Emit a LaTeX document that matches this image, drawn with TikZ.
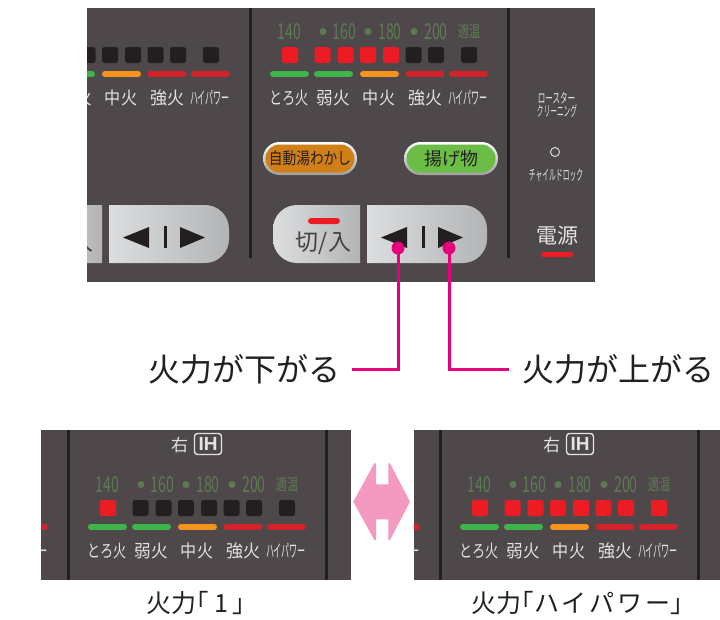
\documentclass[tikz,border=0pt]{standalone}
\usepackage{fontspec}
\usepackage{graphicx}
\setmainfont{Noto Sans CJK JP}
\newfontfamily\latn{Liberation Sans}
\usetikzlibrary{calc}

\definecolor{panel}{HTML}{4F484B}
\definecolor{divc}{HTML}{231F20}
\definecolor{sqon}{HTML}{ED1C24}
\definecolor{sqoff}{HTML}{231F20}
\definecolor{bgreen}{HTML}{3DB54A}
\definecolor{borange}{HTML}{F7941D}
\definecolor{bred}{HTML}{D2232A}
\definecolor{numc}{HTML}{5E7A52}
\definecolor{labc}{HTML}{E2E2E2}
\definecolor{pinkc}{HTML}{E6007E}
\definecolor{arrowpink}{HTML}{F49AC1}
\definecolor{btnA}{HTML}{DCDDDF}
\definecolor{btnB}{HTML}{B3B4B6}
\definecolor{pillor}{HTML}{D17F17}
\definecolor{pillgr}{HTML}{6CBD45}
\definecolor{ink}{HTML}{231F20}

\newcommand\setfs[1]{\fontsize{#1}{#1}\selectfont}

% heat row: #1 prefix, #2 number of lit lamps, #3 first label drawn
\newcommand\heatrow[3]{%
  \foreach \x [count=\i] in {290,322.5,345.5,368,391,413.5,436,469}{%
    \ifnum\i>#2\relax\def\sqc{sqoff}\else\def\sqc{sqon}\fi
    \node[lamp,fill=\sqc] (#1sq\i) at (\x,55) {};}%
  \foreach \x/\c in {289.5/bgreen,333.5/bgreen,379.5/borange,425/bred,468.5/bred}{%
    \draw[barline,\c] (\x-16.5,74) -- (\x+16.5,74);}%
  \foreach \x/\s/\t [count=\j] in {289/0.75/とろ火,333.5/0.95/弱火,379/0.92/中火,425/0.97/強火,468/0.46/ハイパワー}{%
    \ifnum\j<#3\relax\else
      \node[lab] (#1l\j) at (\x,97.5) {\scalebox{\s}[1]{\t}};
    \fi}%
}
% temperature row
\newcommand\temprow[1]{%
  \node[num] (#1na) at (289.5,31.5) {\scalebox{0.64}[1]{140}};
  \node[num] (#1nb) at (344.5,31.5) {\scalebox{0.64}[1]{160}};
  \node[num] (#1nc) at (390,31.5) {\scalebox{0.64}[1]{180}};
  \node[num] (#1nd) at (436,31.5) {\scalebox{0.64}[1]{200}};
  \node[num,font=\setfs{16}] (#1ne) at (469,31.5) {\scalebox{0.7}[1]{適温}};
  \foreach \x in {323,368,414}{\fill[numc] (\x,31.5) circle (3.5);}
}
% "right IH" heading
\newcommand\ihhead[1]{%
  \node[small,font=\setfs{17}] (#1right) at (361.5,-8) {右};
  \node[draw=labc, line width=1.4pt, rounded corners=3pt, minimum width=27pt,
        minimum height=21pt, inner sep=0pt, text=labc,
        font={\latn\bfseries\setfs{19}}] (#1ih) at (390,-9) {IH};
}
% control buttons
\newcommand\btnpair[1]{%
  \begin{scope}
    \clip[rounded corners=24pt] (273,205) rectangle (420,263);
    \shade[left color=btnA,right color=btnB] (273,205) rectangle (360,263);
  \end{scope}
  \begin{scope}
    \clip[rounded corners=24pt] (320,205) rectangle (487,263);
    \shade[left color=btnA,right color=btnB] (367,205) rectangle (487,263);
  \end{scope}
  \fill[sqon, rounded corners=3pt] (308,218) rectangle (340,224);
  \node[text=ink!85!white, inner sep=0pt, font=\setfs{23}] (#1onoff) at (323.5,243) {切/入};
  \fill[ink] (381,237.5) -- (407,227) -- (407,248) -- cycle;
  \fill[ink] (422,226) rectangle (424.8,248);
  \fill[ink] (463,237.5) -- (438,227) -- (438,248) -- cycle;
}

\begin{document}
\begin{tikzpicture}[x=1pt,y=-1pt,
  lamp/.style={rectangle, rounded corners=2.5pt, minimum size=16pt, inner sep=0pt},
  barline/.style={line width=6pt, line cap=round},
  lab/.style={text=labc, inner sep=0pt, font=\setfs{17.5}},
  num/.style={text=numc, inner sep=0pt, font=\setfs{22}},
  small/.style={text=labc, inner sep=0pt},
  divider/.style={draw=divc, line width=3pt},
  pinkline/.style={draw=pinkc, line width=3pt},
  pinkdot/.style={circle, fill=pinkc, minimum size=13pt, inner sep=0pt},
  callout/.style={text=ink, inner sep=0pt, font=\setfs{32}},
  caption/.style={text=ink, inner sep=0pt, font=\setfs{25}},
]
\useasboundingbox (0,0) rectangle (720,619);
\fill[white] (0,0) rectangle (720,619);

% ===== top panel =====
\fill[panel] (87,8) rectangle (595,282);
\begin{scope}
  \clip (87,8) rectangle (595,282);
  \begin{scope}[shift={(-258,0)}]
    \heatrow{TL}{0}{2}
    \btnpair{TL}
  \end{scope}
  \temprow{T}
  \heatrow{T}{5}{1}
  \btnpair{T}
  % pills
  \shade[top color=white, bottom color=black!38, rounded corners=16.5pt] (263,142) rectangle (357,175);
  \fill[pillor, rounded corners=14pt] (265.5,144.5) rectangle (354.5,172.5);
  \node[text=ink, inner sep=0pt, font=\setfs{16.5}] (boil) at (310,158.5) {\scalebox{0.83}[1]{自動湯わかし}};
  \shade[top color=white, bottom color=black!38, rounded corners=16.5pt] (404,142) rectangle (498,175);
  \fill[pillgr, rounded corners=14pt] (406.5,144.5) rectangle (495.5,172.5);
  \node[text=ink, inner sep=0pt, font=\setfs{18}] (fry) at (451,158.5) {揚げ物};
  % dividers
  \draw[divider] (250,8) -- (250,258);
  \draw[divider] (508,8) -- (508,258);
  % right column
  \node[small,font=\setfs{14}] (roastA) at (556.5,98) {\scalebox{0.54}[1]{ロースター}};
  \node[small,font=\setfs{14}] (roastB) at (557,111.5) {\scalebox{0.48}[1]{クリーニング}};
  \node[circle, draw=labc, line width=0.9pt, minimum size=9pt, inner sep=0pt] (lockdot) at (555,152) {};
  \node[small,font=\setfs{14.5}] (lock) at (556,175) {\scalebox{0.47}[1]{チャイルドロック}};
  \node[small,font=\setfs{21}] (power) at (557,235.5) {電源};
  \fill[sqon, rounded corners=2.5pt] (541,252) rectangle (573,257);
\end{scope}

% ===== callouts =====
\node[pinkdot] (dotL) at (398,248) {};
\node[pinkdot] (dotR) at (449,248) {};
\node[callout, anchor=east] (down) at (341,369) {火力が下がる};
\node[callout, anchor=west] (up) at (522,369) {火力が上がる};
\draw[pinkline] (dotL.center) |- ([xshift=11pt]down.east);
\draw[pinkline] (dotR.center) |- ([xshift=-13pt]up.west);

% ===== bottom-left panel =====
\fill[panel] (41,430) rectangle (351,580);
\begin{scope}
  \clip (41,430) rectangle (351,580);
  \begin{scope}[shift={(-440,453)}]
    \heatrow{BLx}{0}{5}
  \end{scope}
  \begin{scope}[shift={(-182,453)}]
    \ihhead{BL}
    \temprow{BL}
    \heatrow{BL}{1}{1}
  \end{scope}
  \draw[divider] (68,430) -- (68,580);
  \draw[divider] (326,430) -- (326,580);
\end{scope}

% ===== bottom-right panel =====
\fill[panel] (414,430) rectangle (720,580);
\begin{scope}
  \clip (414,430) rectangle (720,580);
  \begin{scope}[shift={(-68,453)}]
    \heatrow{BRx}{0}{5}
  \end{scope}
  \begin{scope}[shift={(190,453)}]
    \ihhead{BR}
    \temprow{BR}
    \heatrow{BR}{8}{1}
  \end{scope}
  \draw[divider] (440,430) -- (440,580);
  \draw[divider] (698,430) -- (698,580);
\end{scope}

% ===== double arrow =====
\fill[arrowpink] (374.3,463.3) -- (376,463.3) -- (376,484.3) -- (388.3,484.3) -- (388.3,463.3)
  -- (390,463.3) -- (410,501.7) -- (390,540) -- (388.3,540) -- (388.3,519.3) -- (376,519.3)
  -- (376,540) -- (374.3,540) -- (353.3,501.7) -- cycle;

% ===== captions =====
\node[caption] (capA) at (196,603) {火力｢\hspace{5pt}1\hspace{5pt}｣};
\node[caption] (capB) at (577,603) {火力｢{\addfontfeature{LetterSpace=12}ハイパワー}｣};
\end{tikzpicture}
\end{document}
